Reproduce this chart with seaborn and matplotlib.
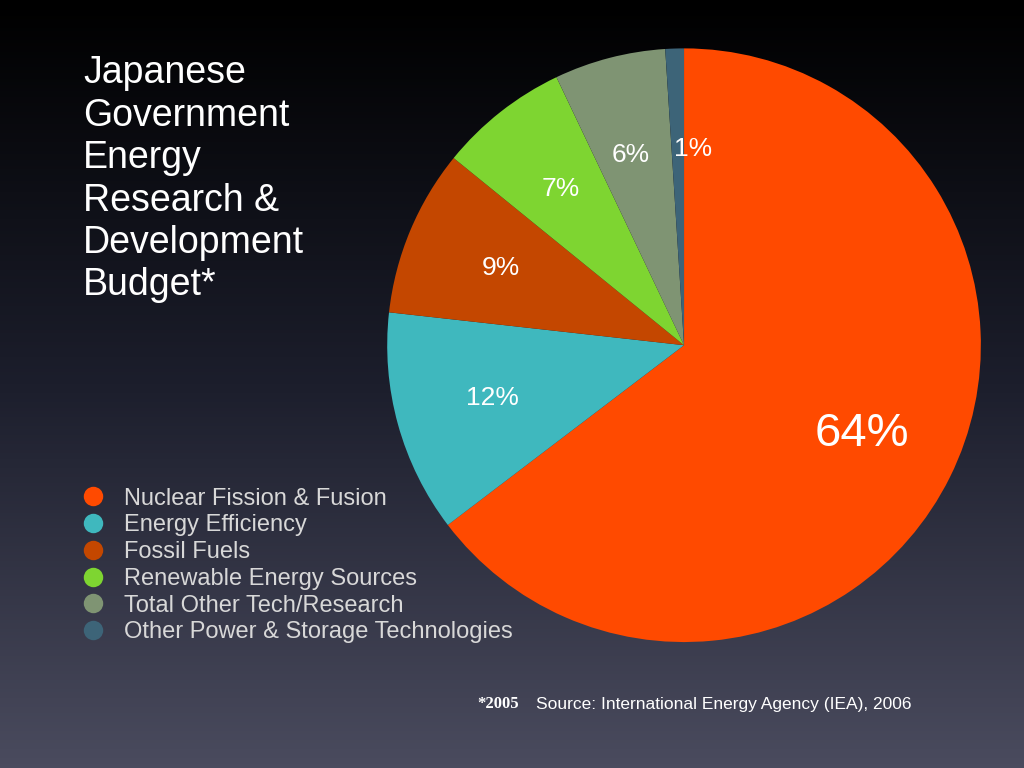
import numpy as np
import matplotlib
matplotlib.use("Agg")
import matplotlib.pyplot as plt
import seaborn as sns
from matplotlib.lines import Line2D
from matplotlib.colors import LinearSegmentedColormap

sns.set_theme(style="white")
plt.rcParams['font.family'] = ['Liberation Sans', 'DejaVu Sans']

categories = ["Nuclear Fission & Fusion", "Energy Efficiency", "Fossil Fuels",
              "Renewable Energy Sources", "Total Other Tech/Research",
              "Other Power & Storage Technologies"]
values = [64, 12, 9, 7, 6, 1]
colors = ["#FF4A00", "#3FB8BE", "#C44700", "#7ED531", "#7F9473", "#3D6478"]

fig = plt.figure(figsize=(10.24, 7.68), dpi=100)
bg = fig.add_axes([0, 0, 1, 1])
grad = np.linspace(0, 1, 256).reshape(-1, 1)
cmap = LinearSegmentedColormap.from_list("bg", ["#000000", "#1c1e2c", "#4a4b5e"])
bg.imshow(grad, aspect="auto", cmap=cmap, extent=[0, 1, 0, 1], origin="upper")
bg.axis("off")

ax = fig.add_axes([0.378, 0.164, 0.58, 0.773])
wedges, texts, autotexts = ax.pie(values, colors=colors, startangle=90, counterclock=False,
                                  autopct="%d%%", pctdistance=0.67,
                                  wedgeprops=dict(linewidth=0))
for i, t in enumerate(autotexts):
    t.set_color("white")
    t.set_fontsize(34 if i == 0 else 19)
autotexts[5].set_position((0.03, 0.66))
autotexts[4].set_position((-0.18, 0.64))
ax.set_xlim(-1, 1)
ax.set_ylim(-1, 1)
ax.set_aspect("equal")
ax.axis("off")

fig.text(0.081, 0.928, "Japanese\nGovernment\nEnergy\nResearch &\nDevelopment\nBudget*",
         color="white", fontsize=27, va="top", ha="left", linespacing=1.23)

handles = [Line2D([], [], marker="o", linestyle="", markersize=14,
                  markerfacecolor=c, markeredgewidth=0) for c in colors]
leg = fig.legend(handles, categories, loc="upper left", bbox_to_anchor=(0.068, 0.365),
                 frameon=False, fontsize=17, labelspacing=0.2, handletextpad=0.3,
                 borderaxespad=0, borderpad=0)
for t in leg.get_texts():
    t.set_color("#D8D8D8")

fig.text(0.466, 0.083, "*2005", color="white", fontsize=12, family="Liberation Serif",
         fontweight="bold", va="center")
fig.text(0.523, 0.083, "Source: International Energy Agency (IEA), 2006",
         color="white", fontsize=12.5, va="center")

fig.savefig("out.png", dpi=100)
